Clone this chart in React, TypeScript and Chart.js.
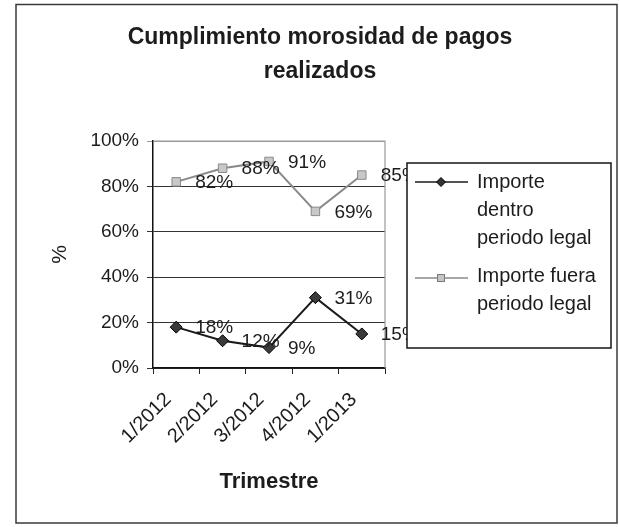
import React, { useEffect, useRef } from 'react';
import { Chart, registerables } from 'chart.js';

Chart.register(...registerables);

const categories = ['1/2012', '2/2012', '3/2012', '4/2012', '1/2013'];
const dentroValues = [18, 12, 9, 31, 15];
const fueraValues = [82, 88, 91, 69, 85];
const seriesNames = ['Importe dentro periodo legal', 'Importe fuera periodo legal'];
const legendDentroLines = ['Importe', 'dentro', 'periodo legal'];
const legendFueraLines = ['Importe fuera', 'periodo legal'];
const titleLines = ['Cumplimiento morosidad de pagos', 'realizados'];
const yAxisTitle = '%';
const xAxisTitle = 'Trimestre';
const yMin = 0;
const yMax = 100;
const yStep = 20;

const FONT = "'Liberation Sans', Arial, Helvetica, sans-serif";
const TEXT = '#1c1c1c';
const DENTRO_LINE = '#1a1a1a';
const FUERA_LINE = '#8a8a8a';

const framePlugin = {
  id: 'outerFrame',
  beforeDraw(chart: any) {
    const ctx = chart.ctx;
    ctx.save();
    ctx.fillStyle = '#ffffff';
    ctx.fillRect(0, 0, chart.width, chart.height);
    ctx.strokeStyle = '#3a3a3a';
    ctx.lineWidth = 1.5;
    ctx.strokeRect(16, 4.5, chart.width - 18, chart.height - 4.5 - 4);
    ctx.restore();
  },
};

const plotBorderPlugin = {
  id: 'plotBorder',
  beforeDatasetsDraw(chart: any) {
    const { ctx, chartArea } = chart;
    ctx.save();
    ctx.strokeStyle = '#9a9a9a';
    ctx.lineWidth = 1.2;
    ctx.beginPath();
    ctx.moveTo(chartArea.left, chartArea.top);
    ctx.lineTo(chartArea.right, chartArea.top);
    ctx.lineTo(chartArea.right, chartArea.bottom);
    ctx.stroke();
    ctx.restore();
  },
};

const dataLabelPlugin = {
  id: 'dataLabels',
  afterDatasetsDraw(chart: any) {
    const ctx = chart.ctx;
    ctx.save();
    ctx.font = `19px ${FONT}`;
    ctx.fillStyle = TEXT;
    ctx.textBaseline = 'middle';
    ctx.textAlign = 'left';
    chart.data.datasets.forEach((ds: any, di: number) => {
      const meta = chart.getDatasetMeta(di);
      meta.data.forEach((pt: any, i: number) => {
        ctx.fillText(`${ds.data[i]}%`, pt.x + 19, pt.y + 1);
      });
    });
    ctx.restore();
  },
};

function drawDiamond(ctx: CanvasRenderingContext2D, x: number, y: number, r: number) {
  ctx.beginPath();
  ctx.moveTo(x, y - r);
  ctx.lineTo(x + r, y);
  ctx.lineTo(x, y + r);
  ctx.lineTo(x - r, y);
  ctx.closePath();
  ctx.fill();
  ctx.stroke();
}

const boxLegendPlugin = {
  id: 'boxLegend',
  afterDraw(chart: any) {
    const { ctx, chartArea } = chart;
    const left = chartArea.right + 22;
    const top = chartArea.top + 22;
    const w = 204;
    const h = 185;
    ctx.save();
    ctx.fillStyle = '#ffffff';
    ctx.fillRect(left, top, w, h);
    ctx.strokeStyle = '#151515';
    ctx.lineWidth = 1.5;
    ctx.strokeRect(left, top, w, h);

    ctx.font = `20px ${FONT}`;
    ctx.fillStyle = TEXT;
    ctx.textBaseline = 'middle';
    ctx.textAlign = 'left';

    const lx0 = left + 8;
    const lx1 = left + 61;
    const mx = left + 34;
    const tx = left + 70;
    const lineGap = 28;

    // entry 1
    let y = top + 19;
    ctx.strokeStyle = DENTRO_LINE;
    ctx.lineWidth = 1.6;
    ctx.beginPath();
    ctx.moveTo(lx0, y);
    ctx.lineTo(lx1, y);
    ctx.stroke();
    ctx.fillStyle = '#333';
    ctx.strokeStyle = '#000';
    ctx.lineWidth = 1;
    drawDiamond(ctx, mx, y, 4.5);
    ctx.fillStyle = TEXT;
    legendDentroLines.forEach((t, i) => ctx.fillText(t, tx, y + i * lineGap));

    // entry 2
    y = top + 115;
    ctx.strokeStyle = FUERA_LINE;
    ctx.lineWidth = 1.6;
    ctx.beginPath();
    ctx.moveTo(lx0, y);
    ctx.lineTo(lx1, y);
    ctx.stroke();
    ctx.fillStyle = '#c4c4c4';
    ctx.strokeStyle = '#7a7a7a';
    ctx.lineWidth = 1;
    ctx.fillRect(mx - 3.5, y - 3.5, 7, 7);
    ctx.strokeRect(mx - 3.5, y - 3.5, 7, 7);
    ctx.fillStyle = TEXT;
    legendFueraLines.forEach((t, i) => ctx.fillText(t, tx, y + i * lineGap - 2));
    ctx.restore();
  },
};

export default function App() {
  const canvasRef = useRef<HTMLCanvasElement | null>(null);

  useEffect(() => {
    if (!canvasRef.current) return;
    Chart.defaults.font.family = FONT;
    Chart.defaults.color = TEXT;
    const chart = new Chart(canvasRef.current, {
      type: 'line',
      data: {
        labels: categories,
        datasets: [
          {
            label: seriesNames[0],
            data: dentroValues,
            borderColor: DENTRO_LINE,
            borderWidth: 2,
            backgroundColor: '#2e2e2e',
            pointStyle: 'rectRot',
            pointRadius: 6,
            pointBorderColor: '#000',
            pointBorderWidth: 1,
            pointBackgroundColor: '#3a3a3a',
            tension: 0,
          },
          {
            label: seriesNames[1],
            data: fueraValues,
            borderColor: FUERA_LINE,
            borderWidth: 2,
            backgroundColor: '#c4c4c4',
            pointStyle: 'rect',
            pointRadius: 6,
            pointBorderColor: '#8a8a8a',
            pointBorderWidth: 1,
            pointBackgroundColor: '#c8c8c8',
            tension: 0,
          },
        ],
      },
      options: {
        animation: false,
        responsive: false,
        maintainAspectRatio: false,
        events: [],
        layout: { padding: { left: 21, right: 0, top: 0, bottom: 0 } },
        plugins: {
          legend: { display: false },
          tooltip: { enabled: false },
          title: {
            display: true,
            text: titleLines,
            color: TEXT,
            font: { size: 23, weight: 'bold', family: FONT, lineHeight: 34 / 23 },
            padding: { top: 21, bottom: 52 },
          },
        },
        scales: {
          x: {
            type: 'category',
            offset: true,
            ticks: {
              minRotation: 45,
              maxRotation: 45,
              autoSkip: false,
              color: TEXT,
              font: { size: 20 },
              padding: 14,
              labelOffset: -8,
            },
            grid: {
              offset: true,
              drawOnChartArea: false,
              drawTicks: true,
              tickLength: 6,
              color: '#222',
            },
            border: { display: true, color: '#111', width: 1.5 },
            title: {
              display: true,
              text: xAxisTitle,
              color: TEXT,
              font: { size: 22, weight: 'bold' },
              padding: { top: 0, bottom: 32 },
            },
            afterFit: (s: any) => {
              s.height = 159;
            },
          },
          y: {
            type: 'linear',
            min: yMin,
            max: yMax,
            ticks: {
              stepSize: yStep,
              color: TEXT,
              font: { size: 19 },
              padding: 8,
              callback: (v: any) => `${v}%`,
            },
            grid: {
              drawTicks: true,
              tickLength: 6,
              color: (c: any) => (c.tick && c.tick.value === yMax ? '#9a9a9a' : '#333'),
              lineWidth: 1,
            },
            border: { display: true, color: '#111', width: 1.5 },
            title: {
              display: true,
              text: yAxisTitle,
              color: TEXT,
              font: { size: 21 },
              padding: { top: 27, bottom: 0 },
            },
            afterFit: (s: any) => {
              s.width = 132;
            },
          },
          spacer: {
            type: 'linear',
            position: 'right',
            display: true,
            grid: { display: false, drawTicks: false },
            ticks: { display: false },
            border: { display: false },
            afterFit: (s: any) => {
              s.width = 234;
            },
          },
        },
      },
      plugins: [framePlugin, plotBorderPlugin, dataLabelPlugin, boxLegendPlugin],
    } as any);
    return () => chart.destroy();
  }, []);

  return (
    <div style={{ position: 'fixed', left: 0, top: 0, width: 619, height: 527, background: '#fff' }}>
      <canvas ref={canvasRef} width={619} height={527} style={{ display: 'block' }} />
    </div>
  );
}
